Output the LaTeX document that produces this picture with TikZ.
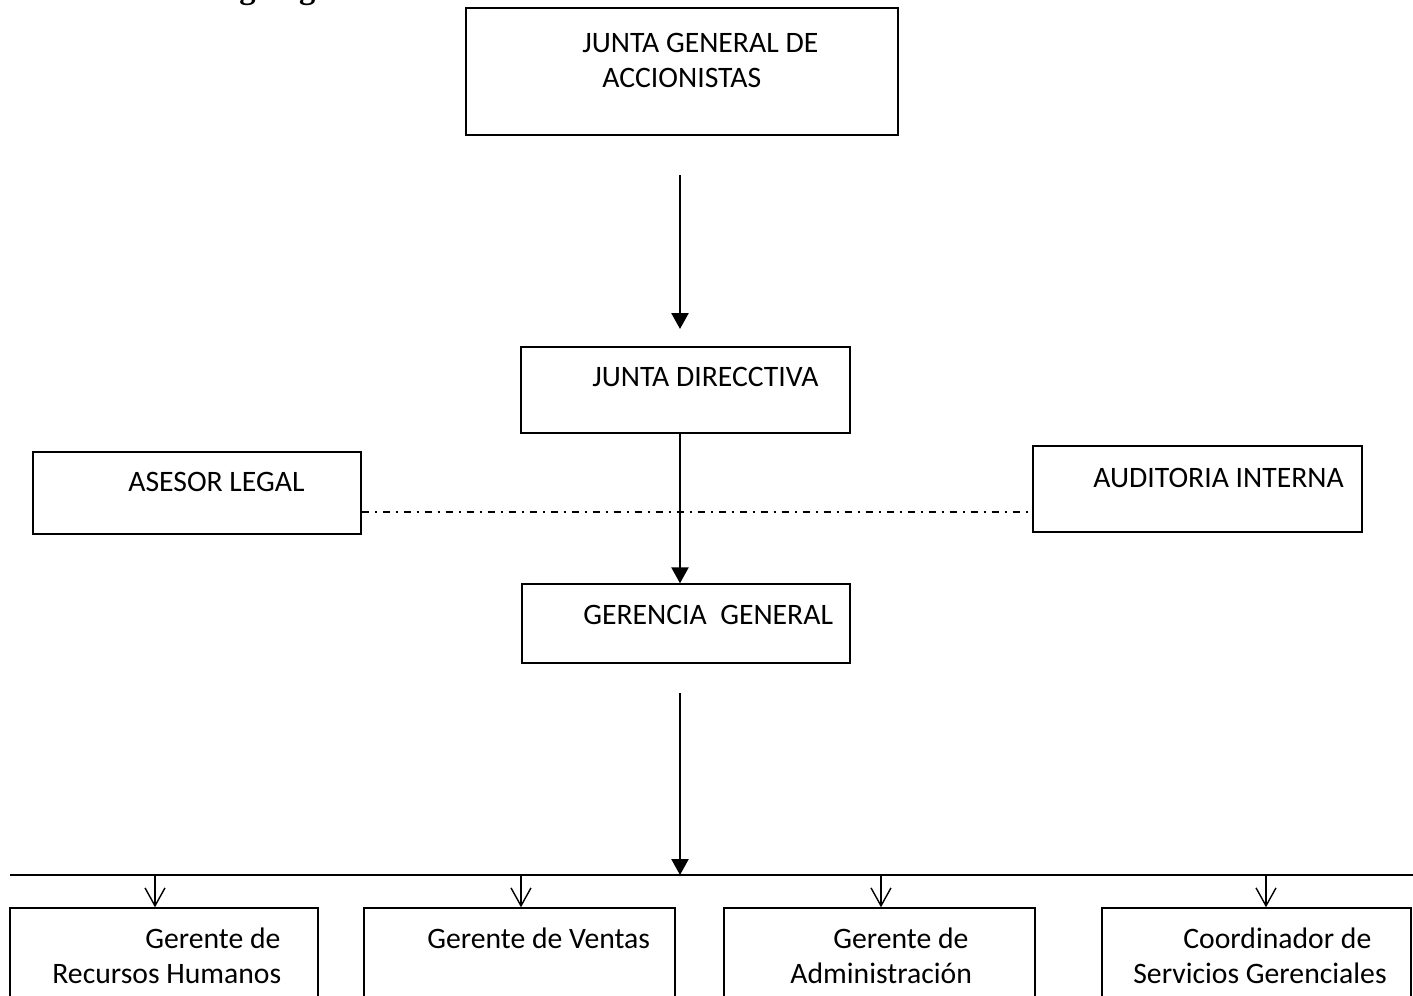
\documentclass[tikz,border=0pt]{standalone}
\usepackage{fontspec}
\setmainfont{Carlito}
\newfontfamily\titlefont{Liberation Serif}
\usetikzlibrary{arrows.meta, fit, positioning}

\begin{document}
\begin{tikzpicture}[
  x=0.02cm, y=-0.02cm,
  font=\fontsize{16.9}{19.8}\selectfont,
  box/.style={draw, line width=0.8pt, inner sep=0pt, fit={#1}},
  lbl/.style={anchor=base west, inner sep=0pt, align=left},
  main arrow/.style={line width=1.4pt, -{Triangle[length=0.32cm, width=0.34cm]}},
  small arrow/.style={line width=0.8pt, -{Straight Barb[length=0.36cm, width=0.4cm, line width=0.8pt]}},
  link/.style={line width=0.9pt, dash pattern=on 0.14cm off 0.12cm on 0.04cm off 0.12cm}]

  \useasboundingbox (0,0) rectangle (1413,995);

  % title, cut off at the top
  \begin{scope}
    \clip (0,0) rectangle (1413,995);
    \node[lbl, font=\titlefont\bfseries\fontsize{18.6}{20}\selectfont] (title) at (199,-2) {Organigrama};
  \end{scope}

  % boxes
  \node[box={(466,8) (898,135)}] (jga) {};
  \node[box={(521,347) (850,433)}] (jd) {};
  \node[box={(33,452) (361,534)}] (ase) {};
  \node[box={(1033,446) (1362,532)}] (aud) {};
  \node[box={(522,584) (850,663)}] (gg) {};
  \node[box={(10,908) (318,1020)}] (rh) {};
  \node[box={(364,908) (675,1020)}] (ve) {};
  \node[box={(724,908) (1035,1020)}] (ad) {};
  \node[box={(1102,908) (1411,1020)}] (co) {};

  % texts (base = last line)
  \node[lbl] (jgaT) at (582,87) {JUNTA GENERAL DE\\\hspace*{0.4cm}ACCIONISTAS};
  \node[lbl] (jdT) at (592,386) {JUNTA DIRECCTIVA};
  \node[lbl] (aseT) at (128,491) {ASESOR LEGAL};
  \node[lbl] (audT) at (1093,487) {AUDITORIA INTERNA};
  \node[lbl] (ggT) at (583,624) {GERENCIA~~GENERAL};
  \node[lbl] (rhT) at (52,983) {\hspace*{1.86cm}Gerente de\\Recursos Humanos};
  \node[lbl] (veT) at (427,948) {Gerente de Ventas};
  \node[lbl] (adT) at (790,983) {\hspace*{0.86cm}Gerente de\\Administración};
  \node[lbl] (coT) at (1133,983) {\hspace*{1.0cm}Coordinador de\\Servicios Gerenciales};

  % connectors
  \coordinate (a1) at (680,175);
  \coordinate (a1end) at (680,329);
  \coordinate (a3) at (680,693);
  \coordinate (busL) at (10,875);
  \coordinate (busR) at (1413,875);

  \draw[main arrow] (a1) -- (a1end);
  \draw[link] (ase.east |- 0,512) -- (aud.west |- 0,512);
  \draw[main arrow] (jd.south -| a1) -- (gg.north -| a1);
  \draw[main arrow] (a3) -- (a3 |- busL);
  \draw[line width=0.7pt] (busL) -- (busR);
  \foreach \b/\x in {rh/155, ve/521, ad/881, co/1266}
    \draw[small arrow] (\x,876) -- (\b.north -| \x,0);
\end{tikzpicture}
\end{document}
